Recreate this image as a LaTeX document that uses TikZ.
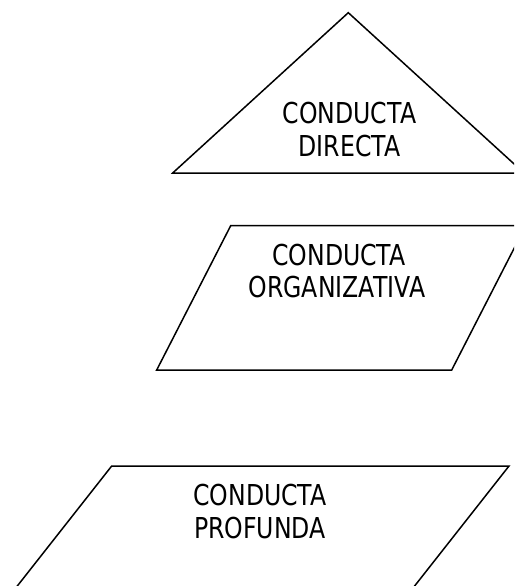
\documentclass[tikz,border=0pt]{standalone}
\usepackage{fontspec}
\setmainfont{DejaVu Sans}[FakeStretch=0.82]
\begin{document}
\begin{tikzpicture}[x=1pt, y=-1pt,
  outline/.style={draw=black, line width=1.5pt, line join=miter},
  lbl/.style={inner sep=0pt, anchor=base, font=\fontsize{28.8}{33}\selectfont}]
  \useasboundingbox (0,0) rectangle (514,586);
  \clip (0,0) rectangle (514,586);
  \fill[white] (0,0) rectangle (514,586);

  % top level: triangle
  \coordinate (triA) at (348.3,12.7);
  \coordinate (triL) at (172.7,173);
  \coordinate (triR) at (524,173);
  \draw[outline] (triA) -- (triL) -- (triR) -- cycle;
  \node[lbl] (dirA) at (349.5,123.3) {CONDUCTA};
  \node[lbl] (dirB) at (349.5,156.6) {DIRECTA};

  % middle level: parallelogram
  \coordinate (orgTL) at (230.7,225.7);
  \coordinate (orgTR) at (525.7,225.7);
  \coordinate (orgBR) at (451.7,370);
  \coordinate (orgBL) at (156.7,370);
  \draw[outline] (orgTL) -- (orgTR) -- (orgBR) -- (orgBL) -- cycle;
  \node[lbl] (orgA) at (339,265.3) {CONDUCTA};
  \node[lbl] (orgB) at (337,297.6) {ORGANIZATIVA};

  % bottom level: wide parallelogram
  \coordinate (proTL) at (111.7,466);
  \coordinate (proTR) at (509,466);
  \coordinate (proBR) at (402.8,601);
  \coordinate (proBL) at (5.5,601);
  \draw[outline] (proTL) -- (proTR) -- (proBR) -- (proBL) -- cycle;
  \node[lbl] (proA) at (260,505.5) {CONDUCTA};
  \node[lbl] (proB) at (260,538.6) {PROFUNDA};
\end{tikzpicture}
\end{document}
